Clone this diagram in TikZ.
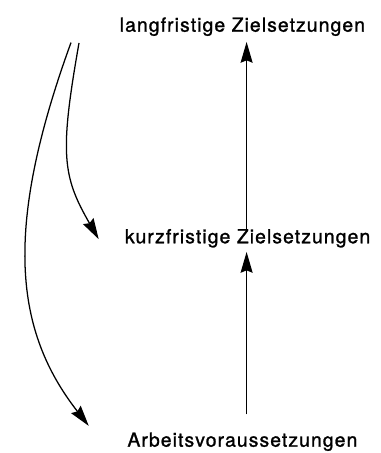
\documentclass[tikz,border=0pt]{standalone}
\usepackage{fontspec}
\newfontfamily\beschriftung{TeX Gyre Heros}[LetterSpace=5.5, FakeBold=1.2]
\usetikzlibrary{arrows.meta}

\tikzset{
    ziel/.style={anchor=base, inner sep=0pt, font=\beschriftung\fontsize{13.8}{16}\selectfont},
    pfeil/.style={line width=0.9pt, -{Stealth[length=0.52cm, width=0.3cm, inset=0.06cm]}}
}

\begin{document}
\begin{tikzpicture}
    \useasboundingbox (0cm,0cm) rectangle (9.5cm,11.325cm);

    \node[ziel] (lang) at (6.06cm, 10.533cm) {langfristige Zielsetzungen};
    \node[ziel] (kurz) at (6.19cm, 5.243cm) {kurzfristige Zielsetzungen};
    \node[ziel] (arbeit) at (6.06cm, 0.158cm) {Arbeitsvoraussetzungen};

    \coordinate (achse) at (6.165cm, 0cm);
    \coordinate (kurzstart) at (1.975cm, 10.25cm);
    \coordinate (langstart) at (1.775cm, 10.26cm);

    \draw[pfeil, shorten <=-0.067cm, shorten >=0.144cm] (kurz.north -| achse) -- (lang.south -| achse);
    \draw[pfeil, shorten <=0.444cm, shorten >=0.104cm] (arbeit.north -| achse) -- (kurz.south -| achse);

    \draw[pfeil] (kurzstart) to[out=-100, in=120, out distance=2.81cm, in distance=1.82cm] ([xshift=-0.65cm, yshift=-0.022cm]kurz.west);
    \draw[pfeil] (langstart) to[out=-110, in=128, out distance=5cm, in distance=3cm] ([xshift=-0.96cm, yshift=0.396cm]arbeit.west);
\end{tikzpicture}
\end{document}
